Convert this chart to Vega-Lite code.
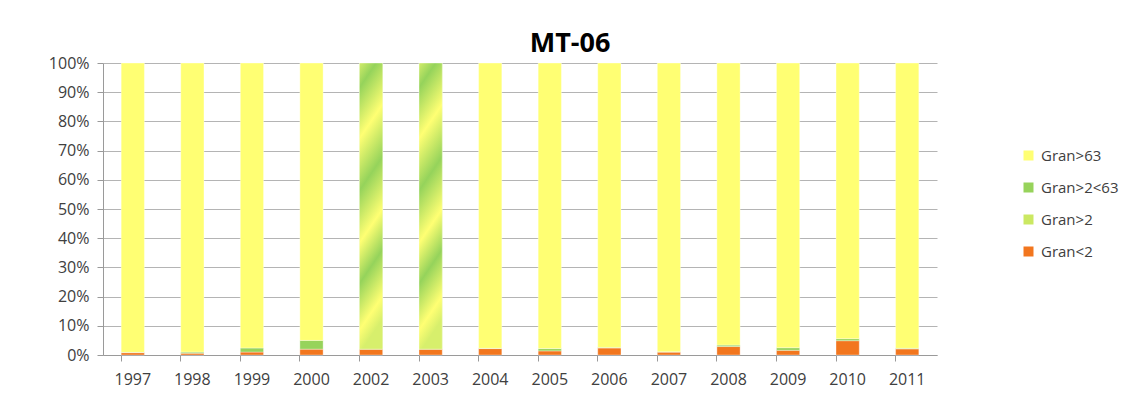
{
  "$schema": "https://vega.github.io/schema/vega-lite/v6.json",
  "width": 834,
  "height": 292,
  "autosize": {"type": "none"},
  "padding": {"left": 103, "top": 63, "right": 195, "bottom": 42},
  "background": "#ffffff",
  "config": {
    "font": "Open Sans",
    "view": {"stroke": null},
    "axis": {"labelFont": "Open Sans", "labelFontSize": 16, "labelColor": "#404040"}
  },
  "title": {
    "text": "MT-06",
    "fontSize": 27,
    "fontWeight": "bold",
    "font": "Open Sans",
    "color": "#000000",
    "anchor": "middle",
    "dx": 50,
    "offset": -3
  },
  "data": {
    "values": [
      {"year": "1997", "series": "Gran<2", "value": 0.8},
      {"year": "1997", "series": "Gran>2<63", "value": 0.1},
      {"year": "1997", "series": "Gran>63", "value": 99.1},
      {"year": "1998", "series": "Gran<2", "value": 0.6},
      {"year": "1998", "series": "Gran>2<63", "value": 0.4},
      {"year": "1998", "series": "Gran>63", "value": 99.0},
      {"year": "1999", "series": "Gran<2", "value": 1.0},
      {"year": "1999", "series": "Gran>2<63", "value": 1.4},
      {"year": "1999", "series": "Gran>63", "value": 97.6},
      {"year": "2000", "series": "Gran<2", "value": 2.0},
      {"year": "2000", "series": "Gran>2<63", "value": 3.0},
      {"year": "2000", "series": "Gran>63", "value": 95.0},
      {"year": "2002", "series": "Gran<2", "value": 2.0},
      {"year": "2002", "series": "Gran>2", "value": 98.0},
      {"year": "2003", "series": "Gran<2", "value": 2.0},
      {"year": "2003", "series": "Gran>2", "value": 98.0},
      {"year": "2004", "series": "Gran<2", "value": 2.2},
      {"year": "2004", "series": "Gran>2<63", "value": 0.1},
      {"year": "2004", "series": "Gran>63", "value": 97.7},
      {"year": "2005", "series": "Gran<2", "value": 1.4},
      {"year": "2005", "series": "Gran>2<63", "value": 0.8},
      {"year": "2005", "series": "Gran>63", "value": 97.8},
      {"year": "2006", "series": "Gran<2", "value": 2.4},
      {"year": "2006", "series": "Gran>2<63", "value": 0.2},
      {"year": "2006", "series": "Gran>63", "value": 97.4},
      {"year": "2007", "series": "Gran<2", "value": 1.0},
      {"year": "2007", "series": "Gran>2<63", "value": 0.1},
      {"year": "2007", "series": "Gran>63", "value": 98.9},
      {"year": "2008", "series": "Gran<2", "value": 2.9},
      {"year": "2008", "series": "Gran>2<63", "value": 0.5},
      {"year": "2008", "series": "Gran>63", "value": 96.6},
      {"year": "2009", "series": "Gran<2", "value": 1.6},
      {"year": "2009", "series": "Gran>2<63", "value": 0.9},
      {"year": "2009", "series": "Gran>63", "value": 97.5},
      {"year": "2010", "series": "Gran<2", "value": 4.9},
      {"year": "2010", "series": "Gran>2<63", "value": 0.7},
      {"year": "2010", "series": "Gran>63", "value": 94.4},
      {"year": "2011", "series": "Gran<2", "value": 2.1},
      {"year": "2011", "series": "Gran>2<63", "value": 0.2},
      {"year": "2011", "series": "Gran>63", "value": 97.7}
    ]
  },
  "transform": [
    {"stack": "value", "groupby": ["year"], "sort": [{"field": "series", "order": "ascending"}], "as": ["y0", "y1"], "offset": "normalize"}
  ],
  "encoding": {
    "x": {
      "field": "year",
      "type": "ordinal",
      "scale": {"paddingInner": 0.61, "paddingOuter": 0.305},
      "axis": {
        "title": null,
        "labelAngle": 0,
        "bandPosition": 0,
        "labelBound": false,
        "tickColor": "#9a9a9a",
        "domainColor": "#9a9a9a",
        "tickSize": 6,
        "labelPadding": 10
      }
    },
    "y": {
      "field": "y0",
      "type": "quantitative",
      "scale": {"domain": [0, 1], "nice": false},
      "axis": {
        "title": null,
        "format": ".0%",
        "values": [0, 0.1, 0.2, 0.3, 0.4, 0.5, 0.6, 0.7, 0.8, 0.9, 1],
        "labelOverlap": false,
        "gridColor": "#b4b4b4",
        "gridWidth": 1,
        "tickColor": "#9a9a9a",
        "domainColor": "#9a9a9a",
        "tickSize": 6,
        "labelPadding": 8
      }
    },
    "y2": {"field": "y1"}
  },
  "layer": [
    {
      "mark": {"type": "bar", "stroke": "#ffffff", "strokeOpacity": 0.35, "strokeWidth": 1},
      "encoding": {
        "color": {
          "field": "series",
          "type": "nominal",
          "scale": {
            "domain": ["Gran>63", "Gran>2<63", "Gran>2", "Gran<2"],
            "range": ["#ffff73", "#97d35b", "#cbe862", "#f2761e"]
          },
          "legend": {
            "title": null,
            "orient": "none",
            "legendX": 918,
            "legendY": 85,
            "symbolType": "square",
            "symbolSize": 100,
            "symbolStrokeWidth": 0,
            "labelFontSize": 15,
            "labelFont": "Open Sans",
            "labelColor": "#404040",
            "rowPadding": 16,
            "labelOffset": 5,
            "encode": {
              "symbols": {
                "update": {
                  "fill": [
                    {"test": "datum.value === 'Gran>2'", "value": {"gradient": "linear", "x1": 0, "y1": 1, "x2": 1, "y2": 0, "stops": [
                      {"offset": 0, "color": "#cbe862"},
                      {"offset": 0.16, "color": "#cbe862"},
                      {"offset": 0.17, "color": "#ffff73"},
                      {"offset": 0.33, "color": "#ffff73"},
                      {"offset": 0.34, "color": "#9bd35b"},
                      {"offset": 0.5, "color": "#9bd35b"},
                      {"offset": 0.51, "color": "#ffff73"},
                      {"offset": 0.66, "color": "#ffff73"},
                      {"offset": 0.67, "color": "#9bd35b"},
                      {"offset": 0.83, "color": "#9bd35b"},
                      {"offset": 0.84, "color": "#ffff73"},
                      {"offset": 1, "color": "#ffff73"}
                    ]}},
                    {"scale": "color", "field": "value"}
                  ],
                  "opacity": {"value": 1}
                }
              }
            }
          }
        }
      }
    },
    {
      "transform": [{"filter": "datum.series === 'Gran>2'"}],
      "mark": {
        "type": "bar",
        "color": {
          "gradient": "linear",
          "x1": 0, "y1": 0, "x2": 0.12, "y2": 1,
          "stops": [
            {"offset": 0, "color": "#d2ec6a"},
            {"offset": 0.085, "color": "#95d35b"},
            {"offset": 0.26, "color": "#ffff73"},
            {"offset": 0.44, "color": "#95d35b"},
            {"offset": 0.62, "color": "#ffff73"},
            {"offset": 0.76, "color": "#95d35b"},
            {"offset": 0.92, "color": "#ffff73"},
            {"offset": 1, "color": "#d7ef6c"}
          ]
        },
        "stroke": "#ffffff",
        "strokeOpacity": 0.35,
        "strokeWidth": 1
      }
    }
  ]
}
